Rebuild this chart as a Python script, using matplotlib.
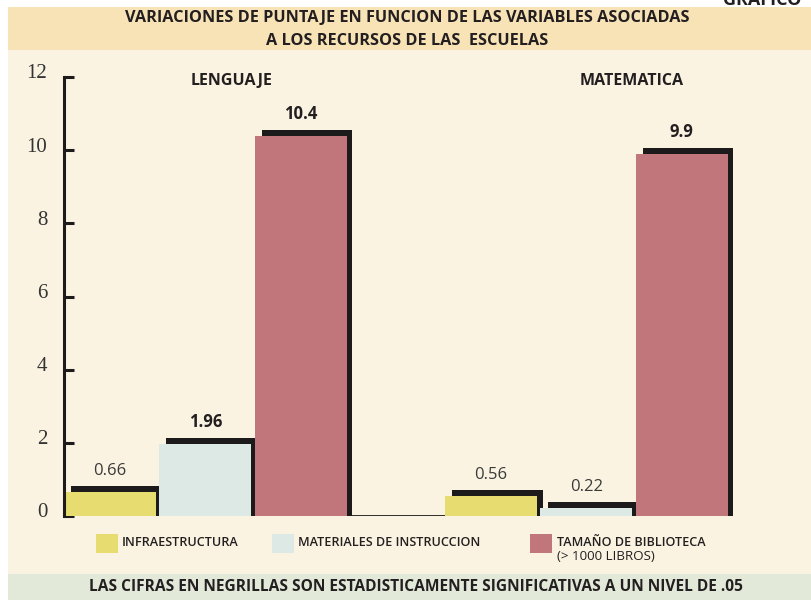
import numpy as np
import matplotlib
matplotlib.use('Agg')
import matplotlib.pyplot as plt
import matplotlib.patches as mpatches
import matplotlib.transforms as mtrans

################## data ##################
subjects = ['LENGUAJE', 'MATEMATICA']
variables = ['INFRAESTRUCTURA', 'MATERIALES DE INSTRUCCION', 'TAMAÑO DE BIBLIOTECA\n(> 1000 LIBROS)']
lenguaje = [0.66, 1.96, 10.4]
matematica = [0.56, 0.22, 9.9]
lenguaje_labels = ['0.66', '1.96', '10.4']
matematica_labels = ['0.56', '0.22', '9.9']
lenguaje_signif = [False, True, True]
matematica_signif = [False, False, True]
yticks = [0, 2, 4, 6, 8, 10, 12]

colors = ['#E6DC6F', '#DCE9E4', '#C0767A']
shadow = '#1C1A1A'
txt = '#231F20'

W, H = 811, 600
fig = plt.figure(figsize=(W / 100, H / 100), dpi=100)
fig.patch.set_facecolor('white')

def px(x, y):
    return x / W, 1 - y / H

# background bands
bg = fig.add_axes([0, 0, 1, 1], zorder=-10)
bg.set_xlim(0, W)
bg.set_ylim(H, 0)
bg.axis('off')
bg.add_patch(mpatches.Rectangle((8, 7), W - 8, 43, color='#F8E3B7', lw=0))
bg.add_patch(mpatches.Rectangle((8, 50), W - 8, 524, color='#FAF3E1', lw=0))
bg.add_patch(mpatches.Rectangle((8, 574), W - 8, 26, color='#E3E9D9', lw=0))

# cut off at the top edge, as in the original scan
fig.text(*px(723, 5), 'GRAFICO', family='Open Sans', weight='bold', fontsize=13,
         color=txt, ha='left', va='baseline')
fig.text(*px(407, 18), 'VARIACIONES DE PUNTAJE EN FUNCION DE LAS VARIABLES ASOCIADAS',
         family='Open Sans', weight='bold', fontsize=11.7, color=txt, ha='center', va='center')
fig.text(*px(407, 41), 'A LOS RECURSOS DE LAS  ESCUELAS',
         family='Open Sans', weight='bold', fontsize=11.7, color=txt, ha='center', va='center')

################## main axes ##################
ax = fig.add_axes([64 / W, (H - 516) / H, 667 / W, 439 / H])
ax.set_facecolor('none')
ax.set_xlim(0, 7)
ax.set_ylim(0, 12)
for s in ['top', 'right', 'bottom']:
    ax.spines[s].set_visible(False)
ax.spines['left'].set_linewidth(2.2)
ax.spines['left'].set_color(shadow)
ax.set_xticks([])
ax.set_yticks(yticks)
ax.set_yticklabels([str(t) for t in yticks], family='Liberation Serif', fontsize=15, color='#333333')
ax.tick_params(axis='y', direction='in', length=7.5, width=2.2, color=shadow, pad=12)
offset = mtrans.ScaledTranslation(0, 4 / 72, fig.dpi_scale_trans)
for lab in ax.get_yticklabels():
    lab.set_transform(lab.get_transform() + offset)

values = lenguaje + [0] + matematica
labels = lenguaje_labels + [''] + matematica_labels
signif = lenguaje_signif + [False] + matematica_signif
bar_colors = colors + ['none'] + colors
pos = np.arange(7)
bw = 0.965
dx = 0.075
dy = 6 / 36.6

# black shadow bars first, then the coloured bars on top
for i in range(7):
    if i == 3:
        continue
    ax.bar(pos[i] + dx, values[i] + dy, width=0.95, align='edge', color=shadow, lw=0, zorder=1, clip_on=False)
for i in range(7):
    if i == 3:
        continue
    ax.bar(pos[i], values[i], width=bw, align='edge', color=bar_colors[i], lw=0, zorder=2)
    ax.annotate(labels[i], (pos[i] + bw / 2, values[i] + dy), xytext=(0, 5), textcoords='offset points',
                ha='center', va='bottom', family='Open Sans', fontsize=12,
                weight='bold' if signif[i] else 'normal', color=txt if signif[i] else '#3A3A3A')
ax.axhline(0, xmin=0, xmax=1, color=shadow, lw=2, zorder=1.5)

ax.text(1.76, 11.9, subjects[0], family='Open Sans', weight='bold', fontsize=11.5, color=txt, ha='center', va='center')
ax.text(5.96, 11.9, subjects[1], family='Open Sans', weight='bold', fontsize=11.5, color=txt, ha='center', va='center')

################## legend ##################
leg_x = [96, 272, 530]
for i in range(3):
    bg.add_patch(mpatches.Rectangle((leg_x[i], 534), 22, 19, color=colors[i], lw=0))
    if '\n' in variables[i]:
        l1, l2 = variables[i].split('\n')
        bg.text(leg_x[i] + 27, 543, l1, family='Open Sans', weight='semibold', fontsize=9.1,
                color=txt, ha='left', va='center')
        bg.text(leg_x[i] + 27, 557, l2, family='Open Sans', fontsize=9.6,
                color=txt, ha='left', va='center')
    else:
        bg.text(leg_x[i] + 26, 543, variables[i], family='Open Sans', weight='semibold', fontsize=9.1,
                color=txt, ha='left', va='center')

fig.text(*px(416, 587), 'LAS CIFRAS EN NEGRILLAS SON ESTADISTICAMENTE SIGNIFICATIVAS A UN NIVEL DE .05',
         family='Open Sans', weight='bold', fontsize=11.2, color=txt, ha='center', va='center')

fig.savefig('out.png', dpi=100, facecolor=fig.get_facecolor())
